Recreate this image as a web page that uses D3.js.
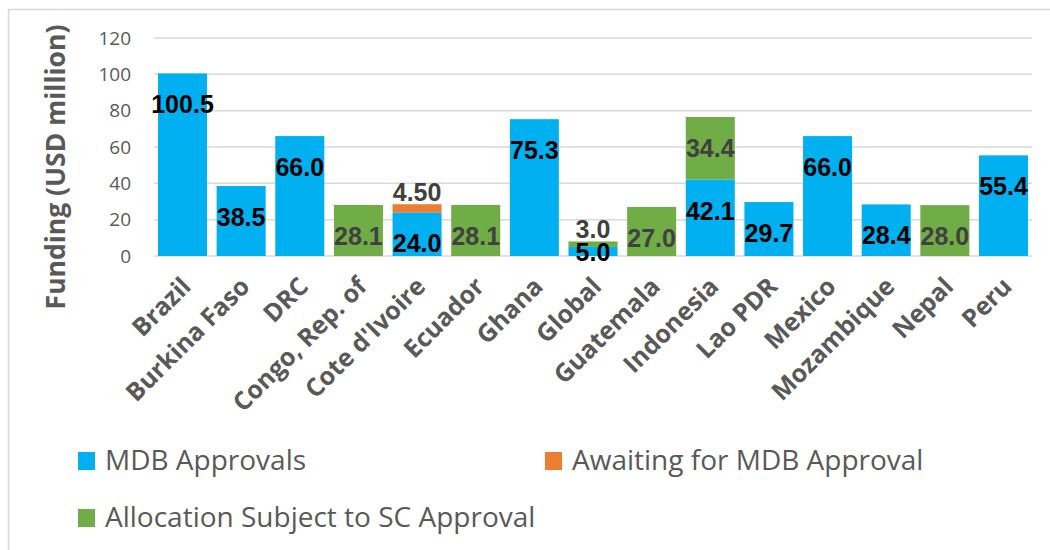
<!DOCTYPE html>
<html>
<head>
<meta charset="utf-8">
<script src="https://cdn.jsdelivr.net/npm/d3@7/dist/d3.min.js"></script>
<style>
  html, body { margin: 0; padding: 0; background: #fff; }
  svg { display: block; }
</style>
</head>
<body>
<svg id="chart" width="1050" height="550"></svg>
<script>
// Funding by country, stacked by approval stage (USD million)
const categories = ["Brazil", "Burkina Faso", "DRC", "Congo, Rep. of", "Cote d'Ivoire",
  "Ecuador", "Ghana", "Global", "Guatemala", "Indonesia", "Lao PDR", "Mexico",
  "Mozambique", "Nepal", "Peru"];

const mdbApprovals = [100.5, 38.5, 66.0, 0, 24.0, 0, 75.3, 5.0, 0, 42.1, 29.7, 66.0, 28.4, 0, 55.4];
const awaitingApproval = [0, 0, 0, 0, 4.5, 0, 0, 0, 0, 0, 0, 0, 0, 0, 0];
const allocationSC = [0, 0, 0, 28.1, 0, 28.1, 0, 3.0, 27.0, 34.4, 0, 0, 0, 28.0, 0];

const seriesNames = ["MDB Approvals", "Awaiting for MDB Approval", "Allocation Subject to SC Approval"];
const seriesColors = ["#00B0F0", "#ED7D31", "#70AD47"];
const labelColors = ["#000000", "#404040", "#404040"];
const labelDecimals = [1, 2, 1];

const yTicks = [0, 20, 40, 60, 80, 100, 120];

const svg = d3.select("#chart");
const plot = { left: 154, right: 1032, top: 38, bottom: 256 };

// Outer chart border (top and left edges are inside the frame)
svg.append("path")
  .attr("d", "M8.5,560 V9.5 H1060")
  .attr("fill", "none")
  .attr("stroke", "#D9D9D9")
  .attr("stroke-width", 1.5);

const x = d3.scaleBand()
  .domain(categories)
  .range([plot.left, plot.right])
  .paddingInner(0.164)
  .paddingOuter(0.068);

const y = d3.scaleLinear()
  .domain([0, 120])
  .range([plot.bottom, plot.top]);

// Gridlines
svg.append("g")
  .selectAll("line")
  .data(yTicks)
  .join("line")
  .attr("x1", plot.left)
  .attr("x2", plot.right)
  .attr("y1", d => y(d))
  .attr("y2", d => y(d))
  .attr("stroke", "#D9D9D9")
  .attr("stroke-width", 1.5);

// Y axis tick labels
const yAxis = d3.axisLeft(y).tickValues(yTicks).tickSize(0).tickPadding(0);
const yg = svg.append("g")
  .attr("transform", `translate(131,0)`)
  .call(yAxis);
yg.select(".domain").remove();
yg.selectAll("text")
  .attr("font-family", "'Open Sans', sans-serif")
  .attr("font-size", 19)
  .attr("fill", "#595959");

// Y axis title
svg.append("text")
  .attr("transform", "translate(65,167) rotate(-90)")
  .attr("text-anchor", "middle")
  .attr("font-family", "'Open Sans', sans-serif")
  .attr("font-weight", 700)
  .attr("font-size", 26.5)
  .attr("fill", "#595959")
  .text("Funding (USD million)");

// Stacked bars
const rows = categories.map((c, i) => ({
  category: c,
  s0: mdbApprovals[i],
  s1: awaitingApproval[i],
  s2: allocationSC[i]
}));
const keys = ["s0", "s1", "s2"];
const stacked = d3.stack().keys(keys)(rows);

const layers = svg.append("g")
  .selectAll("g")
  .data(stacked)
  .join("g")
  .attr("fill", (d, i) => seriesColors[i]);

layers.selectAll("rect")
  .data(d => d.filter(p => p[1] - p[0] > 0))
  .join("rect")
  .attr("x", d => x(d.data.category))
  .attr("width", x.bandwidth())
  .attr("y", d => y(d[1]))
  .attr("height", d => y(d[0]) - y(d[1]));

// Data labels
const labelLayer = svg.append("g")
  .attr("font-family", "'Liberation Sans', Arial, sans-serif")
  .attr("font-weight", 700)
  .attr("font-size", 25)
  .attr("text-anchor", "middle");

stacked.forEach((layer, si) => {
  layer.forEach(p => {
    const v = p[1] - p[0];
    if (v <= 0) return;
    const top = y(p[1]);
    const bottom = y(p[0]);
    const h = bottom - top;
    let cy;
    if (h >= 30) {
      cy = top + 31;            // inside end
    } else if (p[0] === 0) {
      cy = (top + bottom) / 2 + 1;  // too short: centre on the bar
    } else {
      cy = top - 12;            // short upper segment: sit above it
    }
    labelLayer.append("text")
      .attr("x", x(p.data.category) + x.bandwidth() / 2)
      .attr("y", cy + 9)
      .attr("fill", labelColors[si])
      .text(v.toFixed(labelDecimals[si]));
  });
});

// Category labels, rotated
svg.append("g")
  .selectAll("text")
  .data(categories)
  .join("text")
  .attr("transform", d => `translate(${x(d) + x.bandwidth() / 2 + 10},${plot.bottom + 32}) rotate(-45)`)
  .attr("text-anchor", "end")
  .attr("font-family", "'Open Sans', sans-serif")
  .attr("font-weight", 700)
  .attr("font-size", 25)
  .attr("fill", "#595959")
  .text(d => d);

// Legend
const legendItems = [
  { name: seriesNames[0], color: seriesColors[0], lx: 78, ly: 452 },
  { name: seriesNames[1], color: seriesColors[1], lx: 545, ly: 452 },
  { name: seriesNames[2], color: seriesColors[2], lx: 78, ly: 509 }
];
const lg = svg.append("g")
  .selectAll("g")
  .data(legendItems)
  .join("g")
  .attr("transform", d => `translate(${d.lx},${d.ly})`);
lg.append("rect")
  .attr("width", 17)
  .attr("height", 18)
  .attr("fill", d => d.color);
lg.append("text")
  .attr("x", 27)
  .attr("y", 18)
  .attr("font-family", "'Open Sans', sans-serif")
  .attr("font-size", 28)
  .attr("fill", "#595959")
  .text(d => d.name);
</script>
</body>
</html>
